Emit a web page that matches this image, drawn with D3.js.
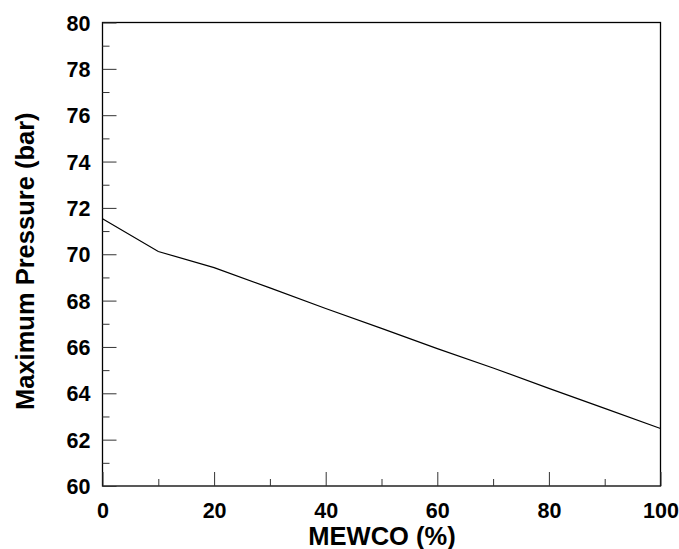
<!DOCTYPE html>
<html>
<head>
<meta charset="utf-8">
<script src="https://cdn.jsdelivr.net/npm/d3@7"></script>
<style>
  html, body { margin: 0; padding: 0; background: #fff; }
  svg { display: block; }
  text { font-family: "Liberation Sans", Arial, sans-serif; font-weight: bold; fill: #000; }
</style>
</head>
<body>
<svg id="chart" width="679" height="549"></svg>
<script>
// MEWCO share in the blend (%)
const mewco = [0, 10, 20, 30, 40, 50, 60, 70, 80, 90, 100];
// Maximum pressure (bar)
const maxPressure = [71.53, 70.12, 69.42, 68.55, 67.66, 66.80, 65.93, 65.09, 64.21, 63.35, 62.48];
const xMajorTicks = [0, 20, 40, 60, 80, 100];
const xMinorTicks = [10, 30, 50, 70, 90];
const yMajorTicks = [60, 62, 64, 66, 68, 70, 72, 74, 76, 78, 80];
const yMinorTicks = [61, 63, 65, 67, 69, 71, 73, 75, 77, 79];

const svg = d3.select("#chart");
const m = { left: 102.5, right: 660.5, top: 22.5, bottom: 486 };

const x = d3.scaleLinear().domain([0, 100]).range([m.left, m.right]);
const y = d3.scaleLinear().domain([60, 80]).range([m.bottom, m.top]);

// frame
svg.append("rect")
  .attr("x", m.left).attr("y", m.top)
  .attr("width", m.right - m.left).attr("height", m.bottom - m.top)
  .attr("fill", "none").attr("stroke", "#000").attr("stroke-width", 1.3);

const tickFont = "21.5px";

// bottom axis: inward ticks
const xAxis = svg.append("g").attr("transform", `translate(0,${m.bottom})`);
xAxis.call(d3.axisBottom(x).tickValues(xMajorTicks).tickSizeInner(-14).tickSizeOuter(0).tickPadding(0).tickFormat(d3.format("d")));
xAxis.append("g").call(d3.axisBottom(x).tickValues(xMinorTicks).tickSizeInner(-7).tickSizeOuter(0).tickFormat(""));
xAxis.selectAll(".domain").remove();
xAxis.selectAll(".tick line").attr("stroke", "#333").attr("stroke-width", 1);
xAxis.selectAll(".tick text").attr("y", 32).attr("dy", 0).style("font-size", tickFont).style("font-family", "'Liberation Sans', Arial, sans-serif").style("font-weight", "bold");

// left axis: inward ticks
const yAxis = svg.append("g").attr("transform", `translate(${m.left},0)`);
yAxis.call(d3.axisLeft(y).tickValues(yMajorTicks).tickSizeInner(-14).tickSizeOuter(0).tickPadding(0).tickFormat(d3.format("d")));
yAxis.append("g").call(d3.axisLeft(y).tickValues(yMinorTicks).tickSizeInner(-7).tickSizeOuter(0).tickFormat(""));
yAxis.selectAll(".domain").remove();
yAxis.selectAll(".tick line").attr("stroke", "#333").attr("stroke-width", 1);
yAxis.selectAll(".tick text").attr("x", -12).attr("dy", "0.35em").style("font-size", tickFont).style("font-family", "'Liberation Sans', Arial, sans-serif").style("font-weight", "bold");

// series line
const line = d3.line().x((d, i) => x(mewco[i])).y(d => y(d));
svg.append("path")
  .datum(maxPressure)
  .attr("d", line)
  .attr("fill", "none")
  .attr("stroke", "#000")
  .attr("stroke-width", 1.2);

// axis titles
svg.append("text")
  .attr("x", (m.left + m.right) / 2 + 0.5).attr("y", 545)
  .attr("text-anchor", "middle")
  .style("font-size", "25.5px")
  .text("MEWCO (%)");

svg.append("text")
  .attr("transform", `translate(34,${(m.top + m.bottom) / 2 + 7}) rotate(-90)`)
  .attr("text-anchor", "middle")
  .style("font-size", "25.5px")
  .text("Maximum Pressure (bar)");
</script>
</body>
</html>
